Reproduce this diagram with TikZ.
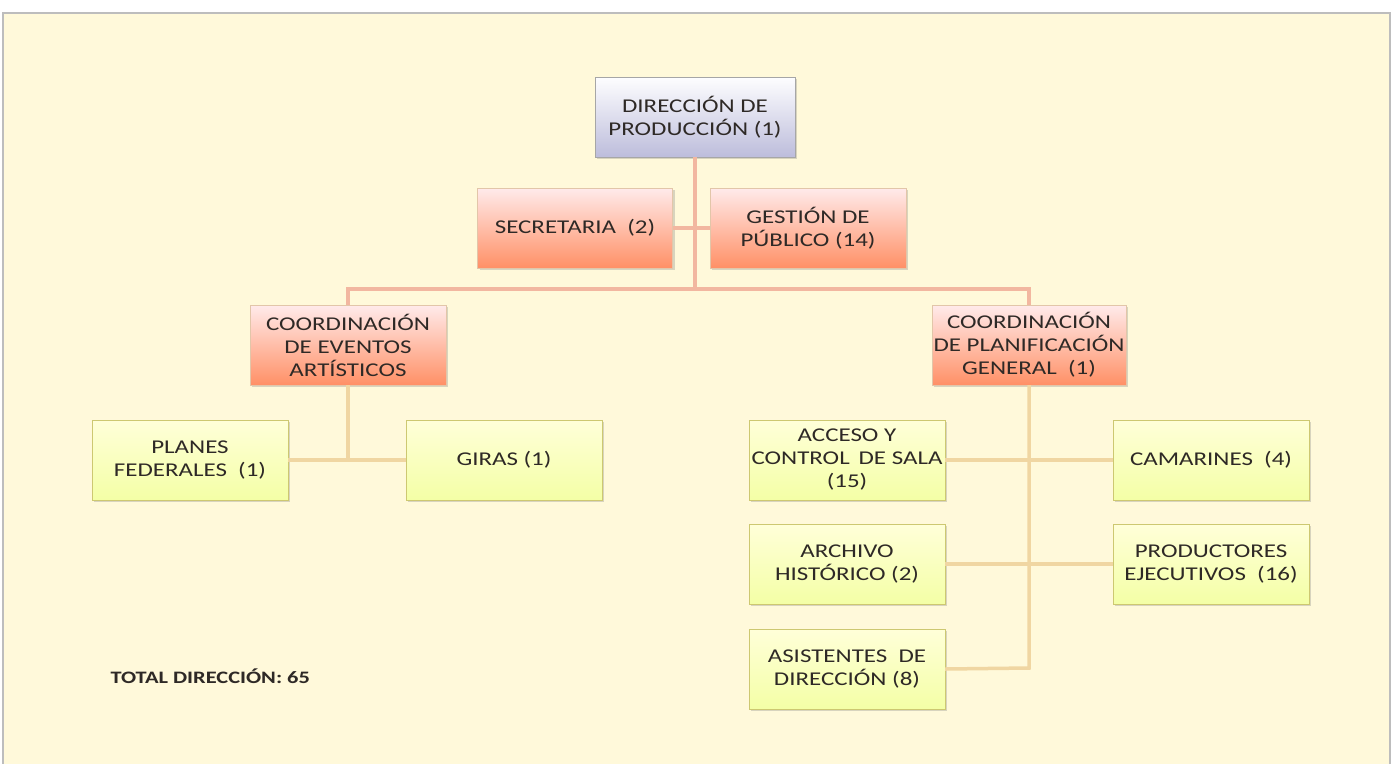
\documentclass[tikz,border=0pt]{standalone}
\usepackage{fontspec}
\setmainfont{Carlito}[FakeStretch=1.28]
\usepackage{xcolor}
\usepackage{tikz}
\usetikzlibrary{shadows}

\definecolor{panelbg}{HTML}{FFF9DA}
\definecolor{panelframe}{HTML}{BDBDBD}
\definecolor{txtdark}{HTML}{2E2926}
\definecolor{uplinecol}{HTML}{F2B7A0}
\definecolor{lowlinecol}{HTML}{F0D6A2}

\tikzset{
    orgbox/.style={draw, rectangle, minimum width=196pt, minimum height=80pt, inner xsep=0pt, inner ysep=2pt,
        align=center, text=txtdark, font=\fontsize{19.5}{23}\selectfont,
        drop shadow={opacity=0.3, shadow xshift=2pt, shadow yshift=-2pt}},
    dirbox/.style={orgbox, draw=gray!70, top color=white!90!blue!5, bottom color=blue!30!gray!40},
    pinkbox/.style={orgbox, draw=brown!45, top color=red!8!white, bottom color=red!45!orange!60!white},
    yellowbox/.style={orgbox, draw=olive!45, top color=yellow!15!white, bottom color=yellow!50!lime!35!white},
    upline/.style={draw=uplinecol, line width=3.5pt},
    lowline/.style={draw=lowlinecol, line width=3.5pt}
}

\begin{document}
\begin{tikzpicture}[x=1pt, y=-1pt]
    \useasboundingbox (0,0) rectangle (1394,763);
    % Panel
    \fill[white] (0,0) rectangle (1394,763);
    \draw[panelframe, fill=panelbg, line width=1.5pt] (3,13) rectangle (1390,770);

    % Top level
    \node[dirbox, minimum width=200pt] (dir) at (695,117) {DIRECCIÓN DE\\PRODUCCIÓN (1)};
    \node[pinkbox, minimum width=195pt] (sec) at (575,228) {SECRETARIA~~(2)};
    \node[pinkbox] (gest) at (808,228) {GESTIÓN DE\\PÚBLICO (14)};

    % Coordinations
    \node[pinkbox] (eventos) at (348,345) {COORDINACIÓN\\DE EVENTOS\\ARTÍSTICOS};
    \node[pinkbox, minimum width=194pt] (planif) at (1029,345) {COORDINACIÓN\\DE PLANIFICACIÓN\\GENERAL~~(1)};

    % Left branch
    \node[yellowbox] (planes) at (190,460) {PLANES\\FEDERALES~~(1)};
    \node[yellowbox] (giras) at (504,460) {GIRAS (1)};

    % Right branch
    \node[yellowbox] (acceso) at (847,460) {ACCESO~Y\\CONTROL\,~DE SALA\\(15)};
    \node[yellowbox] (camar) at (1211,460) {CAMARINES~~(4)};
    \node[yellowbox] (archivo) at (847,564) {ARCHIVO\\HISTÓRICO (2)};
    \node[yellowbox] (product) at (1211,564) {PRODUCTORES\\EJECUTIVOS~~(16)};
    \node[yellowbox] (asist) at (847,669) {ASISTENTES~~DE\\DIRECCIÓN (8)};

    % Connectors
    \coordinate (bus) at (695,289);
    \coordinate (pend) at (1029,668);
    \draw[upline] (dir.south) -- (bus);
    \draw[upline] (sec.east) -- (gest.west);
    \draw[upline] (eventos.north) -- (eventos.north |- bus) -- (planif.north |- bus) -- (planif.north);
    \draw[lowline] (eventos.south) -- (eventos.south |- planes.east);
    \draw[lowline] (planes.east) -- (giras.west);
    \draw[lowline] (planif.south) -- (pend) -- (asist.east);
    \draw[lowline] (acceso.east) -- (camar.west);
    \draw[lowline] (archivo.east) -- (product.west);

    % Total
    \node[anchor=west, text=txtdark, font=\bfseries\fontsize{17.5}{20}\selectfont] (total) at (107,676) {TOTAL DIRECCIÓN: 65};
\end{tikzpicture}
\end{document}
